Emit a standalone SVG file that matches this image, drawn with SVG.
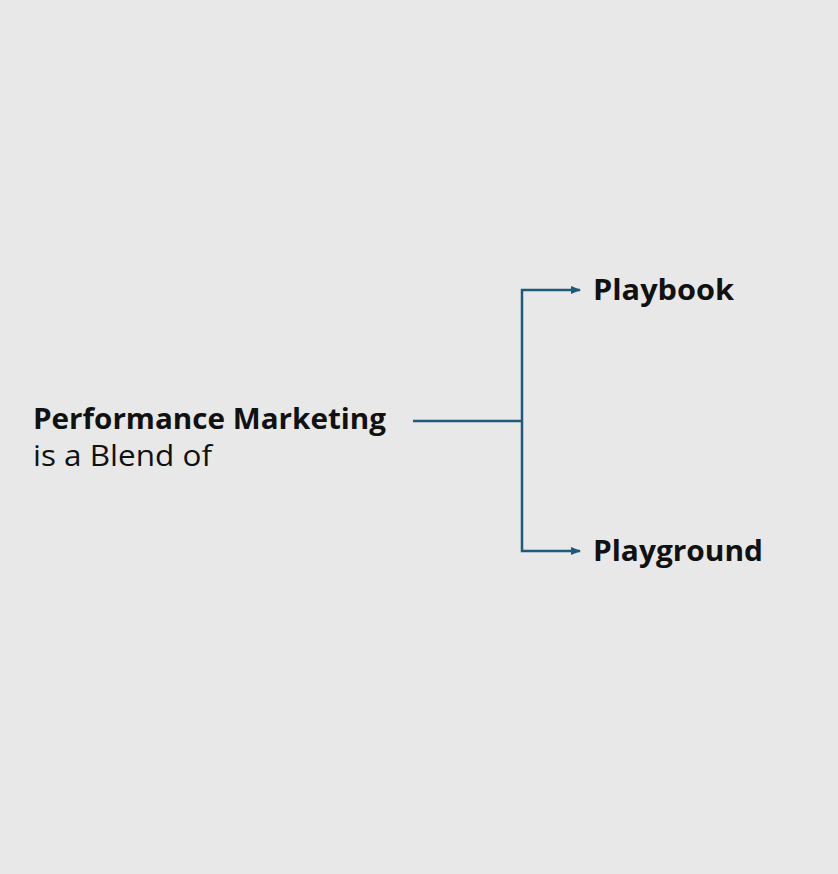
<svg xmlns="http://www.w3.org/2000/svg" width="838" height="874" viewBox="0 0 838 874">
<style>
.t{font-family:"Open Sans","Liberation Sans",sans-serif;fill:#111;font-size:29px}
.b{font-weight:bold}
.c{fill:none;stroke:#1f5a78;stroke-width:2.5}
</style>
<defs><marker id="a" markerWidth="10" markerHeight="10" refX="9" refY="5" orient="auto" markerUnits="userSpaceOnUse"><path d="M0,1 L10,5 L0,9 Z" fill="#1f5a78"/></marker></defs>
<rect width="838" height="874" fill="#e8e8e8"/>
<g id="source"><text class="t b" x="33" y="429" textLength="353" lengthAdjust="spacingAndGlyphs">Performance Marketing</text><text class="t" x="33" y="466" textLength="179" lengthAdjust="spacingAndGlyphs">is a Blend of</text></g>
<g id="playbook"><text class="t b" x="593" y="300" textLength="141" lengthAdjust="spacingAndGlyphs">Playbook</text></g>
<g id="playground"><text class="t b" x="593" y="561" textLength="170" lengthAdjust="spacingAndGlyphs">Playground</text></g>
<g id="connectors">
<path class="c" d="M413,421 H522"/>
<path class="c" d="M522,421 V290 H580" marker-end="url(#a)"/>
<path class="c" d="M522,421 V551 H580" marker-end="url(#a)"/>
</g>
</svg>
